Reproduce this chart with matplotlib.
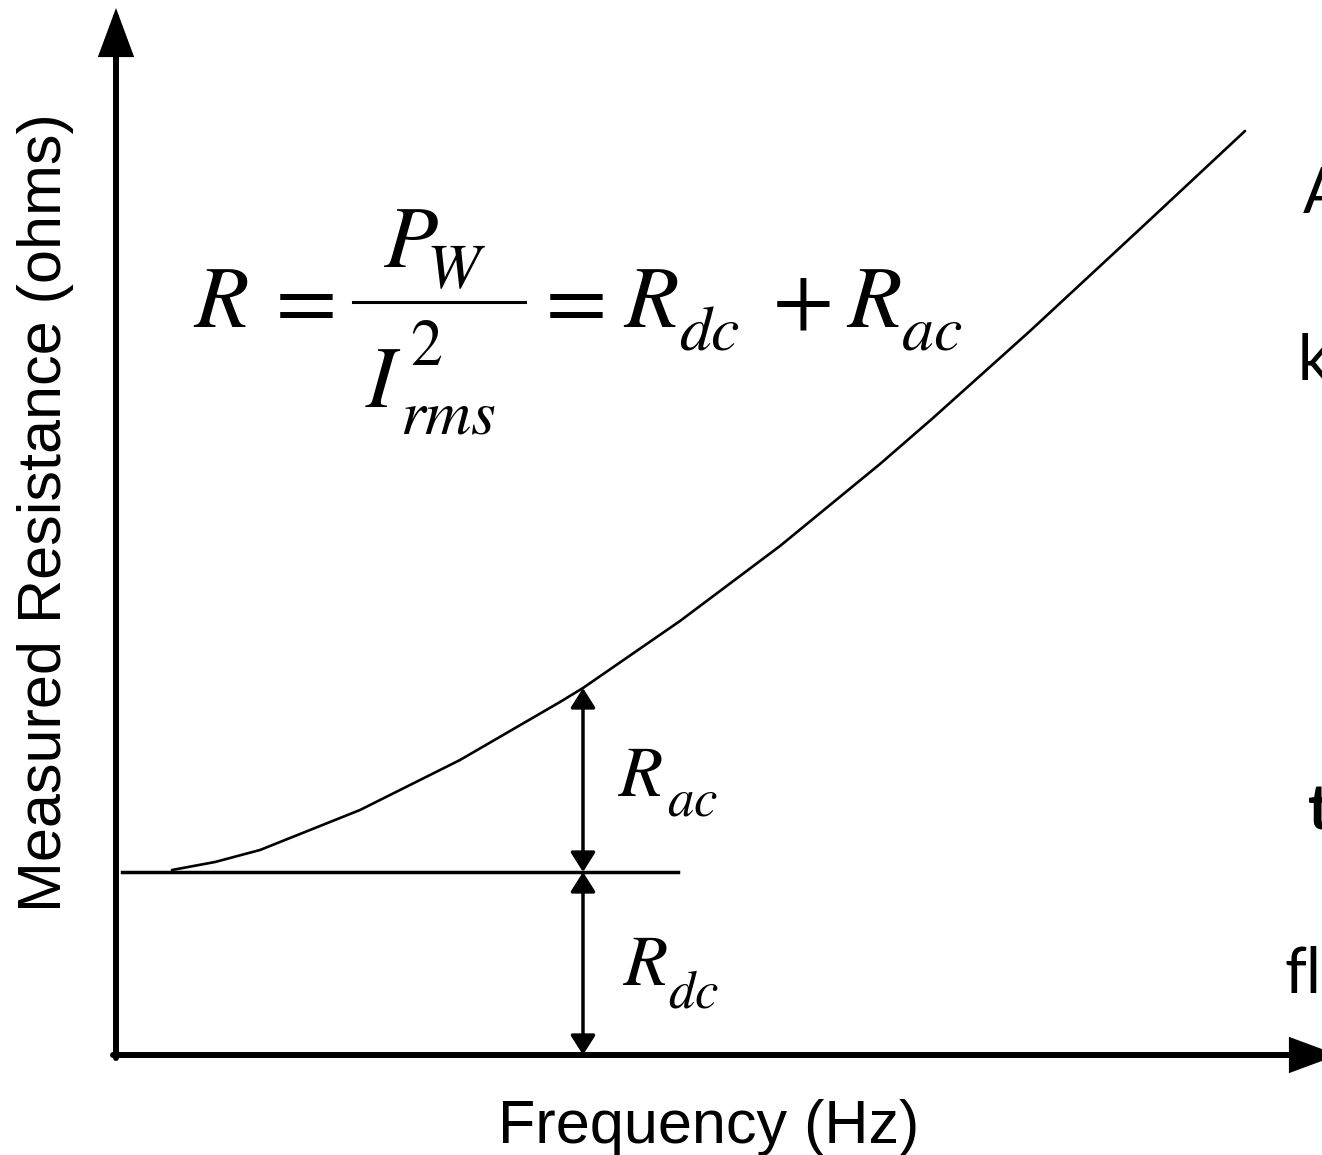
import matplotlib
matplotlib.use("Agg")
import matplotlib.pyplot as plt

plt.rcParams["mathtext.fontset"] = "stix"

# Measured resistance vs frequency (arbitrary units)
freq = [0.56, 0.99, 1.44, 2.44, 3.44, 4.44, 4.67, 5.64, 6.64, 7.64, 8.17, 9.14, 10.24, 11.29]
resistance = [1.85, 1.93, 2.05, 2.45, 2.95, 3.53, 3.67, 4.34, 5.09, 5.91, 6.37, 7.24, 8.26, 9.24]

r_dc = 1.83          # dc resistance level
f_marker = 4.67      # frequency where Rac / Rdc are marked
r_total = 3.67       # measured resistance at f_marker

x_label = "Frequency (Hz)"
y_label = "Measured Resistance (ohms)"

fig = plt.figure(figsize=(13.22, 11.55), dpi=100)
ax = fig.add_axes([0, 0, 1, 1])
ax.set_xlim(-1.16, 12.06)
ax.set_ylim(-1.00, 10.55)
ax.axis("off")

# axes with arrow heads
axis_arrow = dict(arrowstyle="-|>,head_length=1.35,head_width=0.5", lw=4.3,
                  color="black", shrinkA=0, shrinkB=0, mutation_scale=20,
                  joinstyle="miter")
ax.annotate("", xy=(0, 10.47), xytext=(0, -0.03), arrowprops=axis_arrow,
            annotation_clip=False)
ax.annotate("", xy=(12.22, 0), xytext=(-0.03, 0), arrowprops=axis_arrow,
            annotation_clip=False)

# resistance curve
ax.plot(freq, resistance, color="black", lw=1.9, solid_capstyle="round",
        solid_joinstyle="round")

# dc level line
ax.plot([0.06, 5.62], [r_dc, r_dc], color="black", lw=2.5)

# dimension arrows for Rac and Rdc
dim_arrow = dict(arrowstyle="<|-|>,head_length=0.6,head_width=0.38", lw=2.5,
                 color="black", shrinkA=0, shrinkB=0, mutation_scale=20)
ax.annotate("", xy=(f_marker, r_total), xytext=(f_marker, r_dc), arrowprops=dim_arrow)
ax.annotate("", xy=(f_marker, r_dc), xytext=(f_marker, 0), arrowprops=dim_arrow)


def math(x, y, s, size):
    ax.text(x, y, "$" + s + "$", fontsize=size, va="baseline", ha="left")


# R_ac / R_dc labels beside the arrows
math(5.02, 2.59, "R", 52)
math(5.51, 2.40, "ac", 38)
math(5.07, 0.70, "R", 52)
math(5.52, 0.48, "dc", 38)

# formula  R = P_W / I_rms^2 = R_dc + R_ac
fs = 64
sub = 46
math(0.77, 7.28, "R", fs)
math(1.47, 7.28, "=", fs)
ax.plot([2.37, 4.09], [7.53, 7.53], color="black", lw=2.2)
math(2.67, 7.88, "P", fs)
math(3.10, 7.67, "W", sub)
math(2.49, 6.48, "I", fs)
math(2.94, 6.90, "2", sub)
math(2.84, 6.22, "rms", sub)
math(4.17, 7.28, "=", fs)
math(5.07, 7.28, "R", fs)
math(5.63, 7.05, "dc", sub)
math(6.56, 7.28, "+", fs)
math(7.30, 7.28, "R", fs)
math(7.85, 7.05, "ac", sub)

# axis titles
ax.text(5.93, -0.88, x_label, fontsize=44, family="Liberation Sans",
        ha="center", va="baseline")
ax.text(-0.70, 5.42, y_label, fontsize=44, family="Liberation Sans",
        rotation=90, ha="center", va="center")

# slide text running off the right edge
side_font = dict(fontsize=45, family="Lato", va="baseline", ha="left")
ax.text(11.87, 8.42, "A", **side_font)
ax.text(11.82, 6.75, "k", **side_font)
ax.text(11.92, 2.25, "t", fontweight="bold", **side_font)
ax.text(11.69, 0.62, "fl", **side_font)

fig.savefig("out.png", dpi=100)
